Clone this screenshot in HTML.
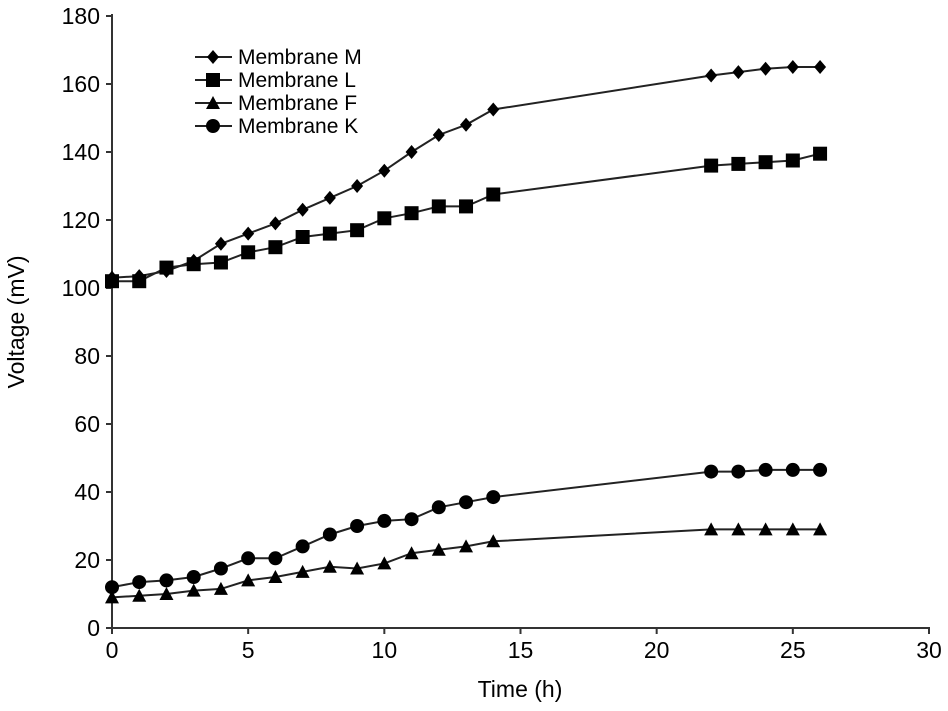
<!DOCTYPE html>
<html><head><meta charset="utf-8"><style>
body{margin:0;background:#fff;}
svg{display:block;font-family:"Liberation Sans",Arial,sans-serif;}
</style></head><body>
<svg id="chart" width="948" height="711"></svg>
<script>
const times=[0,1,2,3,4,5,6,7,8,9,10,11,12,13,14,22,23,24,25,26];
const seriesM=[103,103.5,105,108,113,116,119,123,126.5,130,134.5,140,145,148,152.5,162.5,163.5,164.5,165,165];
const seriesL=[102,102,106,107,107.5,110.5,112,115,116,117,120.5,122,124,124,127.5,136,136.5,137,137.5,139.5];
const seriesF=[9,9.5,10,11,11.5,14,15,16.5,18,17.5,19,22,23,24,25.5,29,29,29,29,29];
const seriesK=[12,13.5,14,15,17.5,20.5,20.5,24,27.5,30,31.5,32,35.5,37,38.5,46,46,46.5,46.5,46.5];
const xTicks=[0,5,10,15,20,25,30];
const yTicks=[0,20,40,60,80,100,120,140,160,180];
const NS="http://www.w3.org/2000/svg";
const svg=document.getElementById('chart');
const X0=112,X1=929,Y0=628,Y1=16;
const xs=v=>X0+(X1-X0)*v/30;
const ys=v=>Y0-(Y0-Y1)*v/180;
function mk(t,a,p){const e=document.createElementNS(NS,t);for(const k in a)e.setAttribute(k,a[k]);(p||svg).appendChild(e);return e;}
let e;
e=mk('line',{x1:X0,y1:Y1-2,x2:X0,y2:Y0,stroke:'#333','stroke-width':2});


e=mk('line',{x1:X0,y1:Y0,x2:X1+1,y2:Y0,stroke:'#333','stroke-width':2});


yTicks.forEach(v=>{
 mk('line',{x1:X0-6,y1:ys(v),x2:X0,y2:ys(v),stroke:'#333','stroke-width':2});
 const t=mk('text',{x:X0-12,y:ys(v)+8,'text-anchor':'end','font-size':23});
 t.textContent=v;
 
 
});
xTicks.forEach(v=>{
 mk('line',{x1:xs(v),y1:Y0,x2:xs(v),y2:Y0+6,stroke:'#333','stroke-width':2});
 const t=mk('text',{x:xs(v),y:Y0+30,'text-anchor':'middle','font-size':23});
 t.textContent=v;
 
 
});
e=mk('text',{x:520,y:697,'text-anchor':'middle','font-size':23});e.textContent='Time (h)';


e=mk('text',{x:0,y:0,'text-anchor':'middle','font-size':23,transform:'translate(24,322) rotate(-90)'});e.textContent='Voltage (mV)';


function marker(type,x,y,g){
 if(type==='diamond')return mk('polygon',{points:`${x},${y-7} ${x+6},${y} ${x},${y+7} ${x-6},${y}`,fill:'#000'},g);
 if(type==='square')return mk('rect',{x:x-7,y:y-7,width:14,height:14,fill:'#000'},g);
 if(type==='triangle')return mk('polygon',{points:`${x},${y-7} ${x+7},${y+6} ${x-7},${y+6}`,fill:'#000'},g);
 return mk('circle',{cx:x,cy:y,r:7,fill:'#000'},g);
}
const series=[['Membrane M',seriesM,'diamond'],['Membrane L',seriesL,'square'],['Membrane F',seriesF,'triangle'],['Membrane K',seriesK,'circle']];
series.forEach(([name,vals,type],i)=>{
 const g=mk('g',{});
 
 
 mk('polyline',{points:vals.map((v,j)=>xs(times[j])+','+ys(v)).join(' '),fill:'none',stroke:'#222','stroke-width':2},g);
 vals.forEach((v,j)=>{const m=marker(type,xs(times[j]),ys(v),g);
  
  });
 const ly=57+i*23;
 const lg=mk('g',{});
 
 
 mk('line',{x1:195,y1:ly,x2:232,y2:ly,stroke:'#222','stroke-width':2},lg);
 marker(type,213,ly,lg);
 const t=mk('text',{x:238,y:ly+7,'font-size':21},lg);t.textContent=name;
});
</script>
</body></html>
